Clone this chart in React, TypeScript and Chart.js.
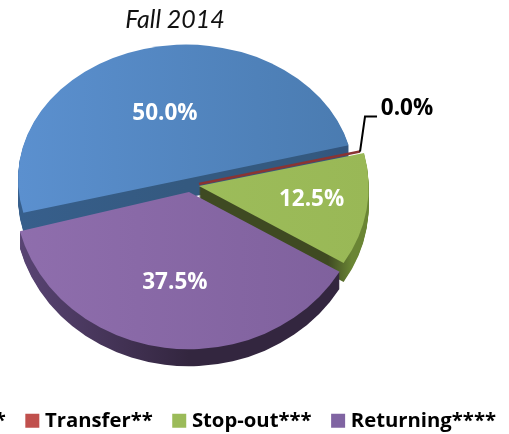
import React, { useEffect, useRef } from "react";
import { Chart, registerables } from "chart.js";

Chart.register(...registerables);

const categories = ["Graduated*", "Transfer**", "Stop-out***", "Returning****"];
const shares = [50.0, 0.0, 12.5, 37.5];
const chartTitle = "Fall 2014";

const swatchColors = ["#4F81BD", "#C0504D", "#9BBB59", "#8064A2"];
const topStart = ["#5B90CF", "#C0504D", "#A0C05E", "#8F6EAD"];
const topEnd = ["#4A7BB0", "#A84442", "#99B856", "#7E609C"];
const wallStart = ["#375F8C", "#8A3432", "#3F4A22", "#5A4575"];
const wallMid = ["#34597F", "#8A3432", "#3F4A22", "#33263F"];
const wallEnd = ["#32557E", "#8A3432", "#6A8534", "#33263F"];
const apexX = [186, 199, 199, 189];
const apexY = [179, 184, 186, 192];
const widen = [1.0, 0.99, 1.01, 1.04];
const squash = [0.8, 0.78, 0.86, 0.9];
const tiltDeg = [0, 0, 1.2, 0];
const depth = [19, 0, 19, 17];
const labelFraction = [0.5, 0, 0.67, 0.58];
const paintOrder = [0, 2, 1, 3];

const FONT = "'Open Sans', Lato, sans-serif";
const PAGE_OFFSET = 200;

const pie3d = {
  id: "pie3d",
  beforeDatasetDraw(chart: any) {
    const ctx: CanvasRenderingContext2D = chart.ctx;
    const arcs = chart.getDatasetMeta(0).data;
    const total = shares.reduce((a, b) => a + b, 0);

    const geom = (i: number) => {
      const a = arcs[i];
      const mid = (a.startAngle + a.endAngle) / 2;
      const rx = a.outerRadius * widen[i];
      const ry = a.outerRadius * widen[i] * squash[i];
      const x0 = apexX[i] + PAGE_OFFSET;
      const y0 = apexY[i];
      return { a, mid, rx, ry, x0, y0 };
    };

    const slicePath = (i: number, dy: number) => {
      const { a, rx, ry, x0, y0 } = geom(i);
      ctx.beginPath();
      ctx.moveTo(x0, y0 + dy);
      ctx.ellipse(x0, y0 + dy, rx, ry, (tiltDeg[i] * Math.PI) / 180, a.startAngle, a.endAngle);
      ctx.closePath();
    };

    for (const i of paintOrder) {
      const { a, rx, ry, x0, y0 } = geom(i);
      if (a.endAngle - a.startAngle < 1e-6) {
        ctx.save();
        ctx.strokeStyle = wallStart[i];
        ctx.lineWidth = 2.5;
        ctx.beginPath();
        ctx.moveTo(x0, y0);
        ctx.lineTo(x0 + Math.cos(a.startAngle) * rx, y0 + Math.sin(a.startAngle) * ry);
        ctx.stroke();
        ctx.restore();
        continue;
      }
      const wall = ctx.createLinearGradient(x0 - rx, 0, x0 + rx, 0);
      wall.addColorStop(0, wallStart[i]);
      wall.addColorStop(0.5, wallMid[i]);
      wall.addColorStop(0.88, wallMid[i]);
      wall.addColorStop(0.95, wallEnd[i]);
      wall.addColorStop(1, wallEnd[i]);
      ctx.fillStyle = wall;
      for (let d = depth[i]; d >= 1; d--) {
        slicePath(i, d);
        ctx.fill();
      }
      const top = ctx.createLinearGradient(x0 - rx, 0, x0 + rx, 0);
      top.addColorStop(0, topStart[i]);
      top.addColorStop(1, topEnd[i]);
      ctx.fillStyle = top;
      slicePath(i, 0);
      ctx.fill();
    }

    ctx.save();
    ctx.textAlign = "center";
    ctx.textBaseline = "middle";
    ctx.fillStyle = "#111";
    ctx.font = "italic 25px Lato, sans-serif";
    ctx.fillText(chartTitle, 175 + PAGE_OFFSET, 20);
    ctx.font = `bold 22.5px ${FONT}`;
    arcs.forEach((_: any, i: number) => {
      const { a, mid, rx, ry, x0, y0 } = geom(i);
      const text = ((shares[i] / total) * 100).toFixed(1) + "%";
      if (shares[i] === 0) {
        const ex = x0 + Math.cos(a.startAngle) * rx;
        const ey = y0 + Math.sin(a.startAngle) * ry;
        ctx.strokeStyle = "#000";
        ctx.lineWidth = 2;
        ctx.beginPath();
        ctx.moveTo(ex, ey);
        ctx.lineTo(ex + 5, ey - 35);
        ctx.lineTo(ex + 17, ey - 35);
        ctx.stroke();
        ctx.fillStyle = "#000";
        ctx.fillText(text, ex + 47, ey - 43);
      } else {
        ctx.fillStyle = "#fff";
        ctx.fillText(
          text,
          x0 + Math.cos(mid) * rx * labelFraction[i],
          y0 + Math.sin(mid) * ry * labelFraction[i]
        );
      }
    });
    ctx.restore();
    return false;
  },
};

export default function App() {
  const ref = useRef<HTMLCanvasElement>(null);
  useEffect(() => {
    const chart = new Chart(ref.current!, {
      type: "pie",
      data: {
        labels: categories,
        datasets: [{ data: shares, backgroundColor: swatchColors, borderWidth: 0 }],
      },
      options: {
        animation: false,
        responsive: false,
        rotation: -104.5,
        radius: 168,
        plugins: {
          tooltip: { enabled: false },
          title: { display: false },
          legend: {
            position: "bottom",
            align: "end",
            labels: {
              color: "#000",
              font: { family: FONT, size: 20.3, weight: "bold" },
              usePointStyle: true,
              pointStyle: "rect",
              boxWidth: 5,
              boxHeight: 14,
              padding: 24,
            },
          },
        },
      },
      plugins: [pie3d],
    } as any);
    return () => chart.destroy();
  }, []);
  return (
    <div style={{ position: "fixed", left: 0, top: 0, width: 509, height: 434, overflow: "hidden", background: "#fff" }}>
      <canvas ref={ref} width={720} height={441} style={{ position: "absolute", left: -PAGE_OFFSET, top: 0 }} />
    </div>
  );
}
